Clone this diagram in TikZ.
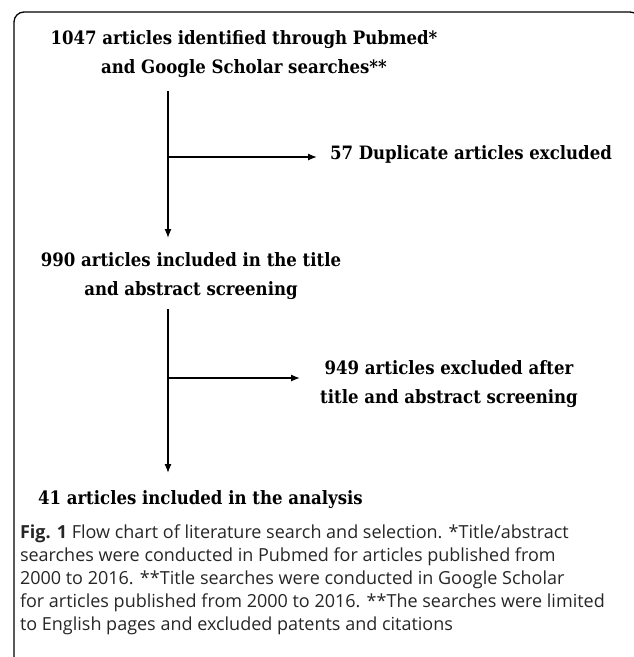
\documentclass[tikz,border=0pt]{standalone}
\usepackage{fontspec}
\setmainfont{Open Sans}
\newfontfamily\flowfont{DejaVu Serif Condensed}[BoldFont=* Bold]
\tikzstyle{every node}+=[inner sep=0pt,outer sep=0pt]
\tikzstyle{every path}+=[line width=1.3pt]
\usetikzlibrary{arrows.meta,positioning}
\tikzstyle{box}=[font=\flowfont\bfseries\fontsize{18.4}{29}\selectfont,align=center]
\tikzstyle{arr}=[-{Latex[length=9pt,width=7pt]}]
\tikzstyle{caption}=[font=\fontsize{18}{23}\selectfont,align=left,text=black!85]

\begin{document}
\begin{tikzpicture}[x=1pt,y=-1pt]
\useasboundingbox (0,0) rectangle (633,657);

% frame
\draw[rounded corners=10pt] (14,12) rectangle (640,667);

% boxes (base = last line)
\node[box,anchor=base] (n1047) at (244,73) {1047 articles identified through Pubmed*\\and Google Scholar searches**};
\node[box,anchor=base west] (n57) at (330,159) {57 Duplicate articles excluded};
\node[box,anchor=base] (n990) at (191,295) {990 articles included in the title\\and abstract screening};
\node[box,anchor=base] (n949) at (449,403) {949 articles excluded after\\title and abstract screening};
\node[box,anchor=base west] (n41) at (38,504) {41 articles included in the analysis};

% connectors
\coordinate (top1) at (168,91);
\coordinate (fork1) at (168,157);
\coordinate (end1) at (168,238);
\coordinate (tip1) at (317,157);
\draw[arr] (top1) -- (end1);
\draw[arr] (fork1) -- (tip1);

\coordinate (top2) at (168,309);
\coordinate (fork2) at (168,378);
\coordinate (end2) at (168,473);
\coordinate (tip2) at (300,378);
\draw[arr] (top2) -- (end2);
\draw[arr] (fork2) -- (tip2);

% caption
\node[caption,anchor=base west] (cap) at (20,630) {\textbf{Fig. 1} Flow chart of literature search and selection. *Title/abstract\\searches were conducted in Pubmed for articles published from\\2000 to 2016. **Title searches were conducted in Google Scholar\\for articles published from 2000 to 2016. **The searches were limited\\to English pages and excluded patents and citations};
\end{tikzpicture}
\end{document}
